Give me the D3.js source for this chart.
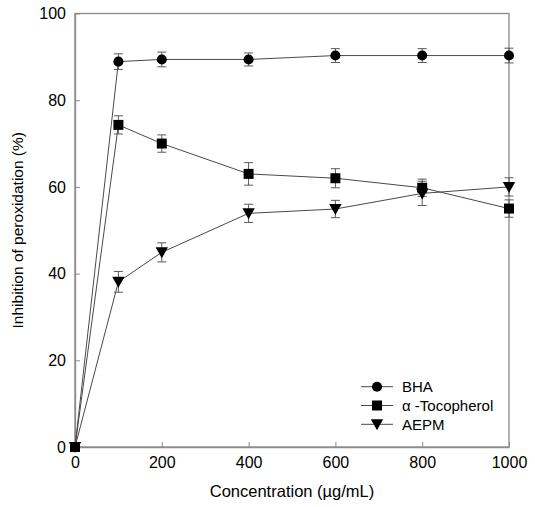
<!DOCTYPE html>
<html>
<head>
<meta charset="utf-8">
<script src="https://cdn.jsdelivr.net/npm/d3@7"></script>
<style>
  body { margin: 0; background: #fff; }
  text { font-family: "Liberation Sans", Arial, sans-serif; fill: #000; }
</style>
</head>
<body>
<svg id="chart"></svg>
<script>
const concentrations = [0, 100, 200, 400, 600, 800, 1000]

const bhaValues = [0, 88.9, 89.4, 89.4, 90.3, 90.3, 90.3]
const bhaErrors = [0, 1.8, 1.7, 1.5, 1.6, 1.6, 1.7]

const tocoValues = [0, 74.3, 70.0, 63.0, 62.0, 59.8, 55.0]
const tocoErrors = [0, 2.1, 2.0, 2.6, 2.2, 2.0, 2.0]

const aepmValues = [0, 38.1, 44.9, 53.9, 54.9, 58.5, 60.0]
const aepmErrors = [0, 2.4, 2.2, 2.1, 2.0, 2.8, 2.1]

const xTicks = [0, 200, 400, 600, 800, 1000]
const yTicks = [0, 20, 40, 60, 80, 100]

const seriesNames = ['BHA', 'α -Tocopherol', 'AEPM']
const seriesSymbols = ['circle', 'square', 'triangleDown']

const width = 535
const height = 507
const margin = {top: 13.5, right: 26, bottom: 60, left: 75}

const svg = d3.select('#chart')
    .attr('width', width)
    .attr('height', height)

const x = d3.scaleLinear().domain([0, 1000]).range([margin.left, width - margin.right])
const y = d3.scaleLinear().domain([0, 100]).range([height - margin.bottom, margin.top])

const axisColor = '#8a8a8a'

// frame box
svg.append('rect')
    .attr('x', x(0)).attr('y', y(100))
    .attr('width', x(1000) - x(0)).attr('height', y(0) - y(100))
    .attr('fill', 'none').attr('stroke', axisColor).attr('stroke-width', 1.3)

const xAxis = svg.append('g')
    .attr('transform', `translate(0,${y(0)})`)
    .call(d3.axisBottom(x).tickValues(xTicks).tickFormat(d3.format('d')).tickSizeInner(-5).tickSizeOuter(0).tickPadding(10))
xAxis.select('.domain').attr('stroke', axisColor).attr('stroke-width', 1.3)
xAxis.selectAll('.tick line').attr('stroke', axisColor)
xAxis.selectAll('.tick text').attr('font-size', 16).attr('font-family', '"Liberation Sans", Arial, sans-serif').attr('fill', '#000')

const yAxis = svg.append('g')
    .attr('transform', `translate(${x(0)},0)`)
    .call(d3.axisLeft(y).tickValues(yTicks).tickSizeInner(-5).tickSizeOuter(0).tickPadding(9))
yAxis.select('.domain').attr('stroke', axisColor).attr('stroke-width', 1.3)
yAxis.selectAll('.tick line').attr('stroke', axisColor)
yAxis.selectAll('.tick text').attr('font-size', 16).attr('font-family', '"Liberation Sans", Arial, sans-serif').attr('fill', '#000')

// axis titles
svg.append('text')
    .attr('x', (x(0) + x(1000)) / 2)
    .attr('y', 497)
    .attr('text-anchor', 'middle')
    .attr('font-size', 16.5)
    .text('Concentration (µg/mL)')

svg.append('text')
    .attr('transform', `translate(23,${(y(0) + y(100)) / 2}) rotate(-90)`)
    .attr('text-anchor', 'middle')
    .attr('font-size', 15.5)
    .text('Inhibition of peroxidation (%)')

// marker shapes, drawn around (0,0)
function symbolPath(sym) {
    if (sym === 'circle') return d3.symbol(d3.symbolCircle, 80)()
    if (sym === 'square') return d3.symbol(d3.symbolSquare, 100)()
    return 'M-6.2,-5L6.2,-5L0,6Z'
}

const allSeries = [
    {values: bhaValues, errors: bhaErrors},
    {values: tocoValues, errors: tocoErrors},
    {values: aepmValues, errors: aepmErrors}
]

const line = d3.line()
    .x(d => x(d[0]))
    .y(d => y(d[1]))

const lineLayer = svg.append('g')
const errLayer = svg.append('g')
const markLayer = svg.append('g')

allSeries.forEach(function (s, i) {
    const pts = concentrations.map((c, j) => [c, s.values[j], s.errors[j]])

    lineLayer.append('path')
        .datum(pts)
        .attr('d', line)
        .attr('fill', 'none')
        .attr('stroke', '#4a4a4a')
        .attr('stroke-width', 1)

    const eb = errLayer.selectAll(null)
        .data(pts.filter(d => d[2] > 0))
        .enter()
        .append('g')
        .attr('stroke', '#5a5a5a')
        .attr('stroke-width', 1)
    eb.append('line')
        .attr('x1', d => x(d[0])).attr('x2', d => x(d[0]))
        .attr('y1', d => y(d[1] - d[2])).attr('y2', d => y(d[1] + d[2]))
    eb.append('line')
        .attr('x1', d => x(d[0]) - 4.5).attr('x2', d => x(d[0]) + 4.5)
        .attr('y1', d => y(d[1] + d[2])).attr('y2', d => y(d[1] + d[2]))
    eb.append('line')
        .attr('x1', d => x(d[0]) - 4.5).attr('x2', d => x(d[0]) + 4.5)
        .attr('y1', d => y(d[1] - d[2])).attr('y2', d => y(d[1] - d[2]))

    markLayer.selectAll(null)
        .data(pts)
        .enter()
        .append('path')
        .attr('d', symbolPath(seriesSymbols[i]))
        .attr('transform', d => `translate(${x(d[0])},${y(d[1])})`)
        .attr('fill', '#000')
})

// legend
const legend = svg.append('g')
seriesNames.forEach(function (name, i) {
    const ly = 386.7 + i * 18.8
    legend.append('line')
        .attr('x1', 361).attr('x2', 393)
        .attr('y1', ly).attr('y2', ly)
        .attr('stroke', '#4a4a4a').attr('stroke-width', 1)
    legend.append('path')
        .attr('d', symbolPath(seriesSymbols[i]))
        .attr('transform', `translate(377,${ly})`)
        .attr('fill', '#000')
    legend.append('text')
        .attr('x', 402)
        .attr('y', ly + 5.5)
        .attr('font-size', 15)
        .text(name)
})
</script>
</body>
</html>
